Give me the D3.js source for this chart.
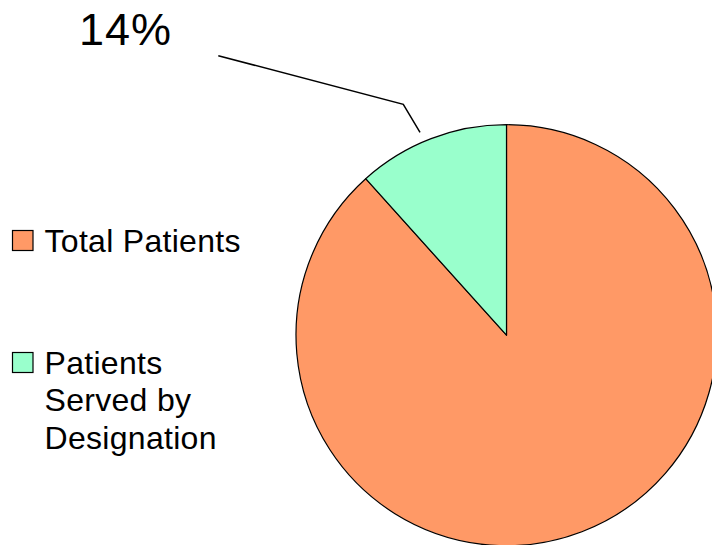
<!DOCTYPE html>
<html>
<head>
<meta charset="utf-8">
<script src="https://cdn.jsdelivr.net/npm/d3@7/dist/d3.min.js"></script>
<style>
  html, body { margin: 0; padding: 0; background: #fff; }
  svg { display: block; }
  text { font-family: "Liberation Sans", Arial, sans-serif; fill: #000; }
</style>
</head>
<body>
<svg id="chart" width="712" height="545"></svg>
<script>
const categories = ["Total Patients", "Patients Served by Designation"];
const values = [100, 13.2];
const colors = ["#FF9966", "#99FFCC"];
const legendLines = [["Total Patients"], ["Patients", "Served by", "Designation"]];
const sliceLabel = "14%";

const svg = d3.select("#chart");
const cx = 506.5, cy = 335.2, r = 210.5;

const pie = d3.pie().sort(null).value(d => d.value);
const arcs = pie(categories.map((c, i) => ({ name: c, value: values[i], color: colors[i] })));
const arc = d3.arc().innerRadius(0).outerRadius(r);

const g = svg.append("g").attr("transform", `translate(${cx},${cy})`);
g.selectAll("path").data(arcs).join("path")
  .attr("d", arc)
  .attr("fill", d => d.data.color)
  .attr("stroke", "#000")
  .attr("stroke-width", 1.2)
  .attr("stroke-linejoin", "round");

// Leader line and label for the small slice
const small = arcs[1];
const leadAngle = small.startAngle + (small.endAngle - small.startAngle) * 0.45;
const p0 = [Math.sin(leadAngle) * (r + 10) + cx, -Math.cos(leadAngle) * (r + 10) + cy];
svg.append("polyline")
  .attr("points", [[218.3, 55.7], [403.3, 104.3], p0].map(p => p.join(",")).join(" "))
  .attr("fill", "none")
  .attr("stroke", "#000")
  .attr("stroke-width", 1.5);
svg.append("text")
  .attr("x", 79).attr("y", 45)
  .attr("font-size", 45)
  .attr("letter-spacing", 1)
  .text(sliceLabel);

// Legend
const legendY = [230, 352];
const legend = svg.append("g");
categories.forEach((c, i) => {
  legend.append("rect")
    .attr("x", 12.5).attr("y", legendY[i] + 0.5)
    .attr("width", 20.5).attr("height", 20)
    .attr("fill", colors[i])
    .attr("stroke", "#000")
    .attr("stroke-width", 1.2);
  legendLines[i].forEach((ln, j) => {
    legend.append("text")
      .attr("x", 44.5)
      .attr("y", legendY[i] + 21.5 + j * 37.5)
      .attr("font-size", 32)
      .attr("letter-spacing", 0.3)
      .text(ln);
  });
});
</script>
</body>
</html>
